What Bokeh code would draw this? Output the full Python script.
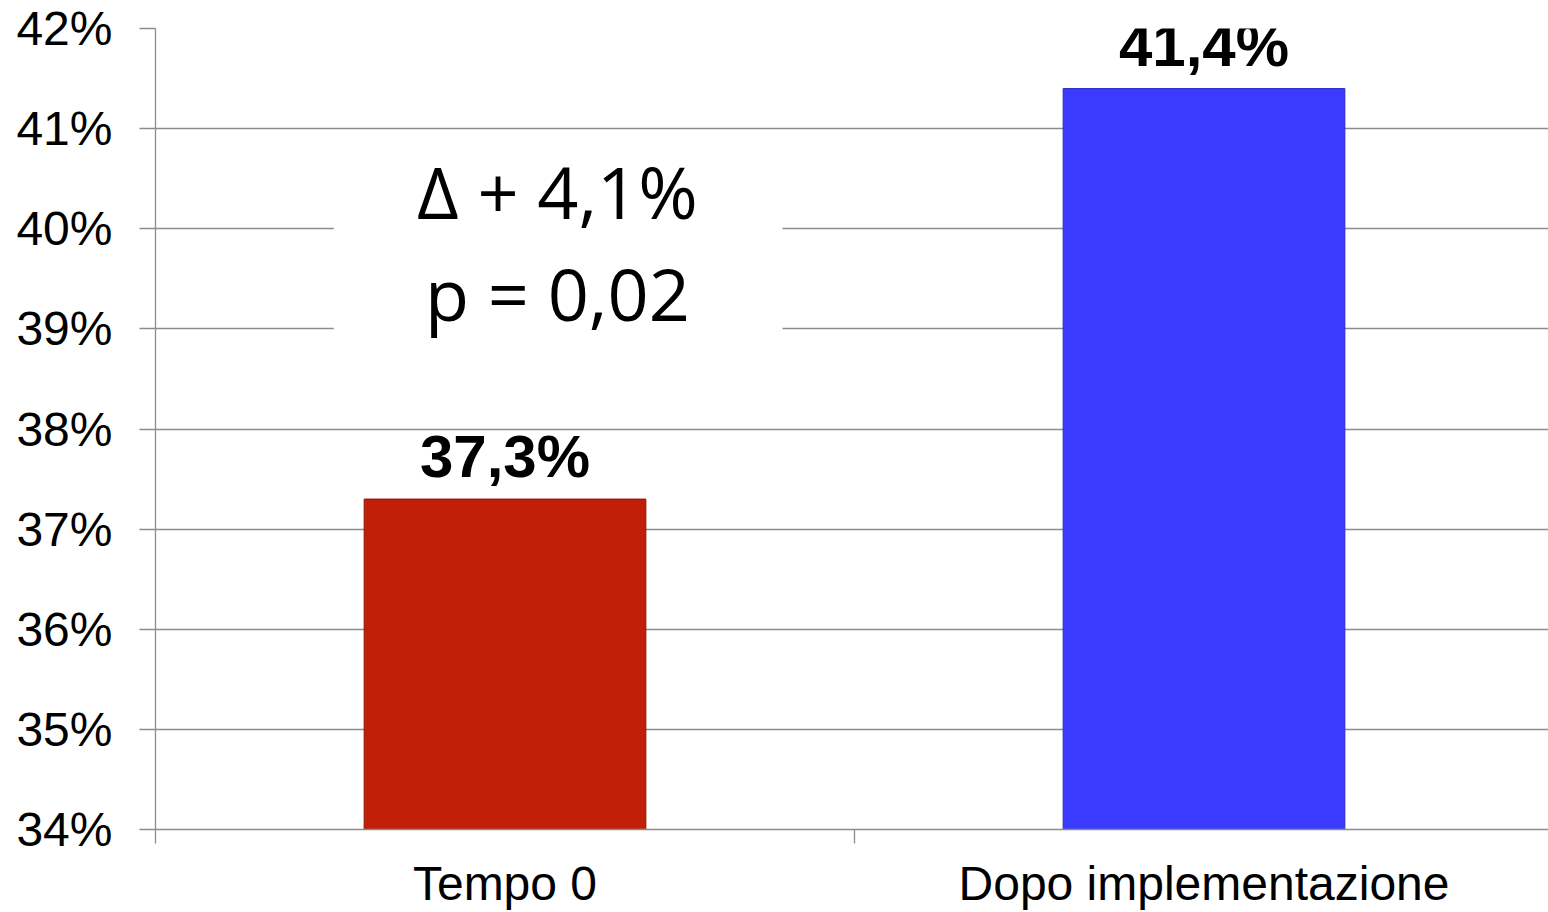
from bokeh.plotting import figure
from bokeh.models import FixedTicker, Range1d, Label, ColumnDataSource, BoxAnnotation
from bokeh.embed import file_html
from bokeh.resources import INLINE

# ---- data ----
categories = ["Tempo 0", "Dopo implementazione"]
values = [37.3, 41.4]
bar_labels = ["37,3%", "41,4%"]
bar_colors = ["#c21f08", "#3b3bff"]
bar_line_colors = ["#8a1606", "#2b2bc8"]
y_ticks = [34, 35, 36, 37, 38, 39, 40, 41, 42]
y_tick_labels = ["34%", "35%", "36%", "37%", "38%", "39%", "40%", "41%", "42%"]
annotation_lines = ["Δ + 4,1%", "p = 0,02"]

x_pos = [i + 0.5 for i in range(len(categories))]
boundaries = [i for i in range(len(categories) + 1)]

src = ColumnDataSource(dict(x=x_pos, top=values, label=bar_labels,
                            color=bar_colors, line=bar_line_colors))

GRID = "#8c8c8c"

p = figure(width=1548, height=912, output_backend="svg", toolbar_location=None,
           x_range=Range1d(0, 1393 / 699), y_range=Range1d(y_ticks[0], y_ticks[-1]),
           min_border_left=155, min_border_right=0, min_border_top=28,
           min_border_bottom=83)
p.outline_line_color = None
p.background_fill_color = "white"

p.vbar(x="x", top="top", bottom=y_ticks[0], width=0.403, source=src,
       fill_color="color", line_color="line", line_width=1)

# value labels above bars (individual Labels so they are not clipped to the frame)
for xv, yv, lab in zip(x_pos, values, bar_labels):
    p.add_layout(Label(x=xv, y=yv, text=lab, text_align="center",
                       text_baseline="alphabetic", y_offset=43,
                       text_font="Liberation Sans", text_font_style="bold",
                       text_font_size="60px", text_color="black"))

# y axis
p.yaxis.ticker = FixedTicker(ticks=y_ticks, minor_ticks=[])
p.yaxis.major_label_overrides = {t: l for t, l in zip(y_ticks, y_tick_labels)}
p.yaxis.major_label_text_font = "Liberation Sans"
p.yaxis.major_label_text_font_size = "48px"
p.yaxis.major_label_text_color = "black"
p.yaxis.major_label_standoff = 27
p.yaxis.major_tick_out = 16
p.yaxis.major_tick_in = 0
p.yaxis.axis_line_color = GRID
p.yaxis.major_tick_line_color = GRID
p.yaxis.axis_line_width = 1.3
p.yaxis.major_tick_line_width = 1.3

# x axis
p.xaxis.ticker = FixedTicker(ticks=x_pos, minor_ticks=boundaries)
p.xaxis.major_label_overrides = {x: c for x, c in zip(x_pos, categories)}
p.xaxis.major_label_text_font = "Liberation Sans"
p.xaxis.major_label_text_font_size = "48px"
p.xaxis.major_label_text_color = "black"
p.xaxis.major_label_standoff = 13
p.xaxis.major_tick_out = 0
p.xaxis.major_tick_in = 0
p.xaxis.minor_tick_out = 14
p.xaxis.minor_tick_in = 0
p.xaxis.minor_tick_line_color = GRID
p.xaxis.minor_tick_line_width = 1.3
p.xaxis.axis_line_color = GRID
p.xaxis.axis_line_width = 1.3

p.xgrid.grid_line_color = None
p.ygrid.grid_line_color = GRID
p.ygrid.grid_line_width = 1.3

# white panel behind the annotation text
box = BoxAnnotation(left=0.255, right=0.897, bottom=38.85, top=40.88,
                    fill_color="white", fill_alpha=1.0, line_color=None)
p.add_layout(box)

for txt, yb in zip(annotation_lines, [40.38, 39.36]):
    p.add_layout(Label(x=0.575, y=yb, text=txt, text_align="center",
                       text_baseline="alphabetic", text_font="Open Sans",
                       text_font_size="72px", text_color="black"))

open("out.html", "w").write(file_html(p, INLINE))
